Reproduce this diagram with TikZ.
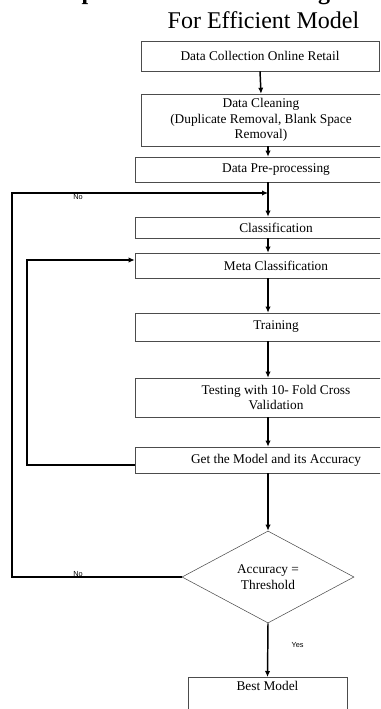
\documentclass[tikz,border=0pt]{standalone}
\usepackage{fontspec}
\setmainfont{Liberation Serif}
\setsansfont{Liberation Sans}
\usetikzlibrary{shapes.geometric, arrows.meta}

\begin{document}
\begin{tikzpicture}[x=0.75pt, y=-0.75pt,
    box/.style={draw=black!70, thin, align=center, inner sep=0pt,
                font=\fontsize{10}{11.5}\selectfont},
    flow/.style={-{Latex[length=4.5pt,width=4pt]}, line width=1.1pt},
    back/.style={line width=0.9pt},
    lbl/.style={font=\sffamily\fontsize{5.5}{6}\selectfont}]
    \useasboundingbox (0,0) rectangle (380,709);
    \clip (0,0) rectangle (380,709);

    \node[anchor=base west, font=\bfseries\fontsize{18}{20}\selectfont] (head) at (40,0) {Proposed Architecture Diagram};
    \node[anchor=base west, font=\fontsize{18}{20}\selectfont] (sub) at (163,29) {For Efficient Model};

    \node[box, minimum width=178.5pt, minimum height=22.5pt] (collect) at (260,56) {Data Collection Online Retail};
    \node[box, minimum width=180pt, minimum height=39pt] (clean) at (261,120) {Data Cleaning\\(Duplicate Removal, Blank Space\\Removal)};
    \node[box, minimum width=211.5pt, minimum height=18.75pt] (prep) at (276,169.5) {Data Pre-processing};
    \node[box, minimum width=211.5pt, minimum height=15.75pt] (classif) at (276,227.5) {Classification};
    \node[box, minimum width=211.5pt, minimum height=18.75pt] (meta) at (276,265.5) {Meta Classification};
    \node[box, minimum width=211.5pt, minimum height=21pt] (train) at (276,327) {Training};
    \node[box, minimum width=211.5pt, minimum height=29.25pt] (test) at (276,397.5) {Testing with 10- Fold Cross\\Validation};
    \node[box, minimum width=211.5pt, minimum height=19.5pt] (getmodel) at (276,460) {Get the Model and its Accuracy};
    \node[box, diamond, aspect=1.87, minimum width=129pt, minimum height=69pt] (check) at (268,577) {Accuracy =\\Threshold};
    \node[box, anchor=north, minimum width=119.25pt, inner sep=3pt, text depth=34pt] (best) at (267.5,677) {Best Model};

    \coordinate (axis) at (268,0);
    \coordinate (loopA) at (12,193);
    \coordinate (joinA) at (268,193);
    \coordinate (loopB) at (27,260);

    \draw[flow] (collect.south) -- (clean.north);
    \draw[flow] (clean.south -| axis) -- (prep.north -| axis);
    \draw[flow] (prep.south -| axis) -- (classif.north -| axis);
    \draw[flow] (classif.south -| axis) -- (meta.north -| axis);
    \draw[flow] (meta.south -| axis) -- (train.north -| axis);
    \draw[flow] (train.south -| axis) -- (test.north -| axis);
    \draw[flow] (test.south -| axis) -- (getmodel.north -| axis);
    \draw[flow] (getmodel.south -| axis) -- (check.north);
    \draw[flow] (check.south) -- (best.north) node[lbl, pos=0.4, right=14pt] (yes) {Yes};

    \draw[back, -{Latex[length=4.5pt,width=4pt]}] (check.west) -| (loopA) -- (joinA);
    \draw[back, -{Latex[length=4.5pt,width=4pt]}] ([yshift=-3.75pt]getmodel.west) -| (loopB) -- (meta.west |- loopB);
    \node[lbl] (noA) at (78,197) {No};
    \node[lbl] (noB) at (78,574) {No};
\end{tikzpicture}
\end{document}
